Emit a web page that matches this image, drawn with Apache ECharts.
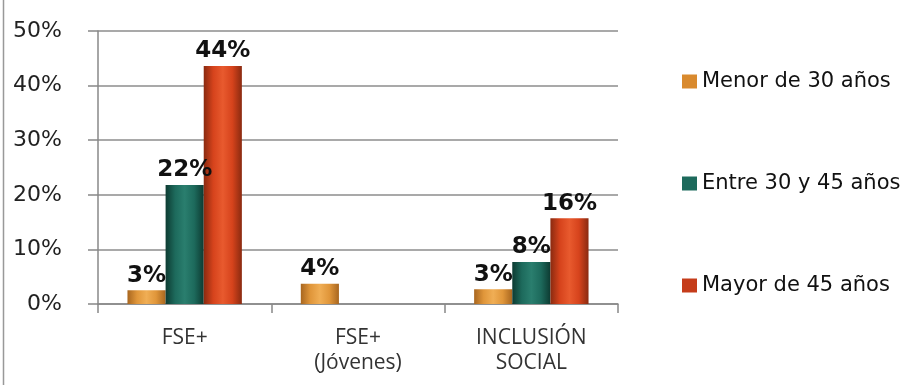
<!DOCTYPE html>
<html><head><meta charset="utf-8">
<script src="https://cdn.jsdelivr.net/npm/echarts@6/dist/echarts.min.js"></script>
<style>html,body{margin:0;padding:0;background:#fff}#c{width:923px;height:385px}</style>
</head><body><div id="c"></div>
<script>
const categories = ['FSE+', 'FSE+\n(Jóvenes)', 'INCLUSIÓN\nSOCIAL'];
const seriesNames = ['Menor de 30 años', 'Entre 30 y 45 años', 'Mayor de 45 años'];
const menor30 = [2.5, 3.7, 2.7];
const entre30y45 = [21.8, null, 7.7];
const mayor45 = [43.6, null, 15.7];
const yTicks = [0, 10, 20, 30, 40, 50];

function grad(edge, mid, light) {
  return new echarts.graphic.LinearGradient(0, 0, 1, 0, [
    {offset: 0, color: edge}, {offset: 0.25, color: mid}, {offset: 0.5, color: light},
    {offset: 0.75, color: mid}, {offset: 1, color: edge}
  ]);
}
const styles = [
  {edge: '#a8661f', mid: '#e0963a', light: '#f0ae55', legend: '#d98a2e'},
  {edge: '#0d3b32', mid: '#1d6a5c', light: '#2a7e6e', legend: '#1d6a5c'},
  {edge: '#8a2a10', mid: '#d6431c', light: '#e85a2e', legend: '#c53c1a'}
];
const dataSets = [menor30, entre30y45, mayor45];

const chart = echarts.init(document.getElementById('c'));
chart.setOption({
  animation: false,
  grid: {left: 98, right: 305, top: 31, bottom: 81},
  legend: {
    orient: 'vertical', left: 677, top: 66, itemGap: 81,
    itemWidth: 15, itemHeight: 14, icon: 'rect',
    textStyle: {fontFamily: 'DejaVu Sans', fontSize: 21, color: '#111'},
    data: seriesNames.map((n, i) => ({name: n, itemStyle: {color: styles[i].legend}}))
  },
  xAxis: {
    type: 'category', data: categories,
    axisLine: {lineStyle: {color: '#888', width: 1.5}},
    axisTick: {show: true, length: 9, lineStyle: {color: '#888', width: 1.5}},
    axisLabel: {fontFamily: 'Open Sans', fontSize: 21, color: '#333', margin: 22, lineHeight: 25}
  },
  yAxis: {
    type: 'value', min: 0, max: 50, interval: 10,
    axisLine: {show: true, lineStyle: {color: '#888', width: 1.5}},
    axisTick: {show: true, length: 10, lineStyle: {color: '#888', width: 1.5}},
    splitLine: {lineStyle: {color: '#8c8c8c', width: 1.5}},
    axisLabel: {fontFamily: 'DejaVu Sans', fontSize: 22, color: '#222', margin: 36,
      formatter: v => yTicks.includes(v) ? v + '%' : ''}
  },
  series: dataSets.map((d, i) => ({
    name: seriesNames[i], type: 'bar', data: d,
    barGap: '0%', barCategoryGap: '34%',
    itemStyle: {color: grad(styles[i].edge, styles[i].mid, styles[i].light)},
    label: {show: true, position: 'top', distance: 3,
      fontFamily: 'DejaVu Sans', fontWeight: 'bold', fontSize: 23, color: '#111',
      formatter: p => (p.value == null ? '' : Math.round(p.value) + '%')}
  })),
  graphic: [{type: 'line', shape: {x1: 3.5, y1: 0, x2: 3.5, y2: 385}, style: {stroke: '#999', lineWidth: 1.5}}]
});
</script></body></html>
